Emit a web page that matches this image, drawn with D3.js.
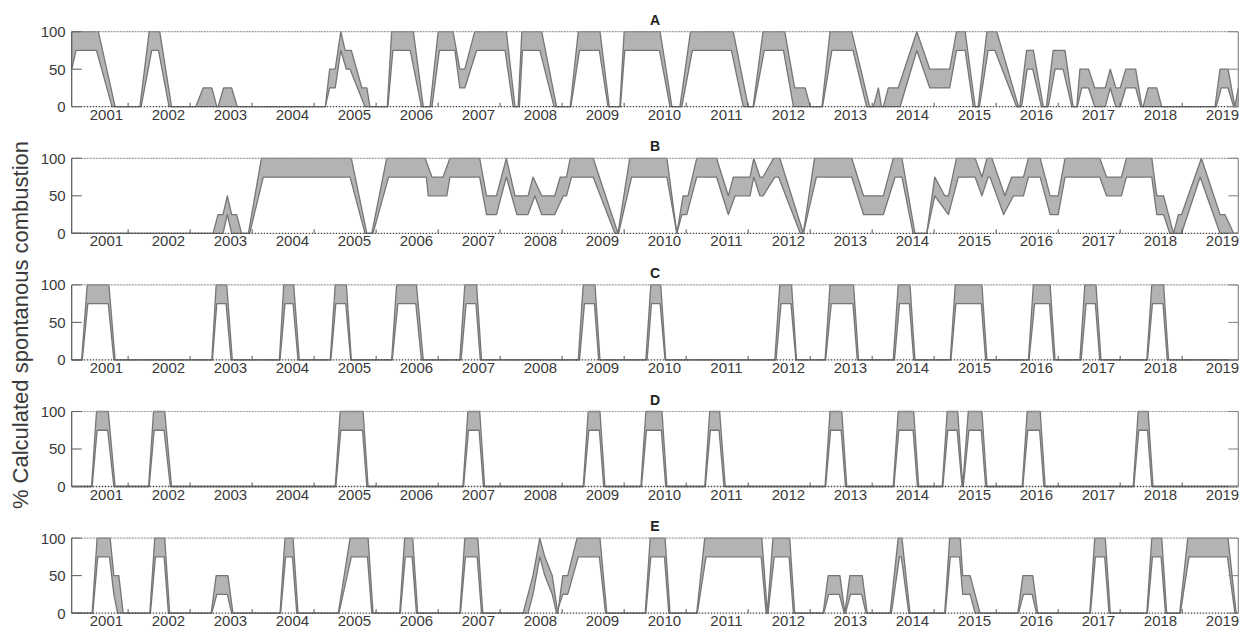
<!DOCTYPE html>
<html><head><meta charset="utf-8">
<script src="https://cdn.jsdelivr.net/npm/d3@7/dist/d3.min.js"></script>
<style>body{margin:0;background:#fff;} svg{display:block;font-family:"Liberation Sans",Arial,sans-serif;}</style>
</head><body><svg id="c" width="1248" height="630"></svg>
<script>
const panelNames = ["A","B","C","D","E"];
const yearLabels = [2001,2002,2003,2004,2005,2006,2007,2008,2009,2010,2011,2012,2013,2014,2015,2016,2017,2018,2019];
const yTickValues = [0,50,100];
const yAxisTitle = "% Calculated spontanous combustion";

// Panel A
const A_hi = [[2000.44,100],[2000.87,100],[2001.14,0],
[2001.54,0],[2001.69,100],[2001.86,100],[2002.05,0],
[2002.44,0],[2002.56,25],[2002.70,25],[2002.78,0],[2002.80,0],[2002.89,25],[2003.02,25],[2003.11,0],
[2004.53,0],[2004.60,50],[2004.69,50],[2004.78,100],[2004.85,75],[2004.95,75],[2005.12,25],[2005.20,25],[2005.25,0],
[2005.53,0],[2005.60,100],[2005.95,100],[2006.11,0],
[2006.22,0],[2006.35,100],[2006.59,100],[2006.70,50],[2006.78,50],[2006.94,100],[2007.45,100],[2007.59,0],
[2007.64,0],[2007.70,100],[2008.02,100],[2008.26,0],
[2008.48,0],[2008.61,100],[2008.96,100],[2009.11,0],
[2009.28,0],[2009.35,100],[2009.93,100],[2010.12,0],
[2010.25,0],[2010.42,100],[2011.11,100],[2011.35,0],
[2011.43,0],[2011.59,100],[2011.94,100],[2012.10,25],[2012.27,25],[2012.35,0],
[2012.54,0],[2012.67,100],[2013.02,100],[2013.31,0],
[2013.37,0],[2013.45,25],[2013.50,0],
[2013.53,0],[2013.61,25],[2013.77,25],[2014.07,100],[2014.28,50],[2014.60,50],[2014.71,100],[2014.85,100],[2015.01,0],
[2015.06,0],[2015.20,100],[2015.36,100],[2015.71,0],
[2015.73,0],[2015.84,75],[2015.95,75],[2016.11,0],
[2016.16,0],[2016.27,75],[2016.46,75],[2016.59,0],
[2016.65,0],[2016.70,50],[2016.84,50],[2016.94,25],[2017.11,25],[2017.19,50],[2017.28,25],[2017.35,25],[2017.44,50],[2017.60,50],[2017.70,0],
[2017.72,0],[2017.80,25],[2017.94,25],[2018.02,0],
[2018.88,0],[2018.96,50],[2019.09,50],[2019.20,0],[2019.255,25]];
const A_lo = [[2000.44,50],[2000.51,75],[2000.84,75],[2001.09,0],
[2001.56,0],[2001.73,75],[2001.84,75],[2002.01,0],
[2004.53,0],[2004.60,25],[2004.69,25],[2004.78,75],[2004.87,50],[2004.93,50],[2005.17,0],
[2005.54,0],[2005.62,75],[2005.90,75],[2006.08,0],
[2006.25,0],[2006.37,75],[2006.62,75],[2006.70,25],[2006.78,25],[2006.97,75],[2007.43,75],[2007.56,0],
[2007.66,0],[2007.71,75],[2007.99,75],[2008.22,0],
[2008.49,0],[2008.63,75],[2008.95,75],[2009.09,0],
[2009.29,0],[2009.36,75],[2009.92,75],[2010.09,0],
[2010.28,0],[2010.45,75],[2011.08,75],[2011.27,0],
[2011.44,0],[2011.61,75],[2011.92,75],[2012.08,0],
[2012.55,0],[2012.70,75],[2013.04,75],[2013.26,0],
[2013.80,0],[2014.07,75],[2014.28,25],[2014.60,25],[2014.71,75],[2014.85,75],[2014.98,0],
[2015.08,0],[2015.22,75],[2015.33,75],[2015.68,0],
[2015.76,0],[2015.85,50],[2015.94,50],[2016.08,0],
[2016.19,0],[2016.30,50],[2016.43,50],[2016.57,0],
[2016.66,0],[2016.73,25],[2016.84,25],[2016.94,0],[2017.11,0],[2017.19,25],[2017.28,0],[2017.35,0],[2017.44,25],[2017.60,25],[2017.68,0],
[2018.90,0],[2018.98,25],[2019.09,25],[2019.18,0],[2019.255,0]];

// Panel B
const B_hi = [[2000.44,0],[2002.72,0],[2002.80,25],[2002.88,25],[2002.95,50],[2003.02,25],[2003.10,25],[2003.18,0],
[2003.29,0],[2003.50,100],[2004.95,100],[2005.20,0],
[2005.28,0],[2005.52,100],[2006.14,100],[2006.25,75],[2006.43,75],[2006.54,100],[2007.02,100],[2007.13,50],[2007.29,50],[2007.45,100],[2007.59,50],[2007.80,50],[2007.88,75],[2008.02,50],[2008.23,50],[2008.32,75],[2008.42,75],[2008.48,100],[2008.85,100],[2009.25,0],
[2009.44,100],[2010.04,100],[2010.20,0],[2010.30,50],[2010.38,50],[2010.52,100],[2010.84,100],[2011.03,50],[2011.11,75],[2011.38,75],[2011.44,100],[2011.54,75],[2011.59,75],[2011.76,100],[2011.86,100],[2012.24,0],
[2012.42,100],[2013.02,100],[2013.21,50],[2013.53,50],[2013.69,100],[2013.83,100],[2014.04,0],[2014.23,0],[2014.36,75],[2014.52,50],[2014.58,50],[2014.71,100],[2015.01,100],[2015.12,75],[2015.20,100],[2015.28,100],[2015.49,50],[2015.60,75],[2015.79,75],[2015.87,100],[2016.06,100],[2016.22,50],[2016.35,50],[2016.46,100],[2017.02,100],[2017.13,75],[2017.37,75],[2017.45,100],[2017.86,100],[2017.94,50],[2018.05,50],[2018.21,0],[2018.29,25],[2018.34,25],[2018.66,100],[2018.96,25],[2019.04,25],[2019.18,0],[2019.255,0]];
const B_lo = [[2000.44,0],[2002.88,0],[2002.95,25],[2003.02,0],
[2003.31,0],[2003.53,75],[2004.93,75],[2005.17,0],
[2005.30,0],[2005.55,75],[2006.16,75],[2006.19,50],[2006.49,50],[2006.54,75],[2007.02,75],[2007.13,25],[2007.29,25],[2007.45,75],[2007.62,25],[2007.80,25],[2007.91,50],[2008.02,25],[2008.23,25],[2008.37,50],[2008.42,50],[2008.50,75],[2008.85,75],[2009.20,0],
[2009.26,0],[2009.47,75],[2010.04,75],[2010.20,0],[2010.28,25],[2010.36,25],[2010.52,75],[2010.84,75],[2011.03,25],[2011.14,50],[2011.38,50],[2011.44,75],[2011.54,50],[2011.59,50],[2011.78,75],[2011.84,75],[2012.19,0],
[2012.24,0],[2012.45,75],[2013.02,75],[2013.21,25],[2013.53,25],[2013.72,75],[2013.83,75],[2014.01,0],[2014.23,0],[2014.36,50],[2014.58,25],[2014.74,75],[2015.01,75],[2015.12,50],[2015.22,75],[2015.25,75],[2015.47,25],[2015.63,50],[2015.79,50],[2015.87,75],[2016.06,75],[2016.22,25],[2016.35,25],[2016.46,75],[2017.02,75],[2017.13,50],[2017.37,50],[2017.45,75],[2017.86,75],[2017.94,25],[2018.05,25],[2018.15,0],[2018.34,0],[2018.64,75],[2018.96,0],[2019.255,0]];

// Panel C
const C_hi = [[2000.44,0],[2000.60,0],[2000.69,100],[2001.04,100],[2001.14,0],
[2002.70,0],[2002.77,100],[2002.94,100],[2003.03,0],
[2003.79,0],[2003.86,100],[2004.02,100],[2004.11,0],
[2004.61,0],[2004.69,100],[2004.87,100],[2004.95,0],
[2005.60,0],[2005.68,100],[2006.00,100],[2006.11,0],
[2006.70,0],[2006.78,100],[2006.97,100],[2007.05,0],
[2008.61,0],[2008.69,100],[2008.88,100],[2008.96,0],
[2009.70,0],[2009.78,100],[2009.94,100],[2010.02,0],
[2011.78,0],[2011.86,100],[2012.05,100],[2012.13,0],
[2012.59,0],[2012.67,100],[2013.05,100],[2013.13,0],
[2013.69,0],[2013.77,100],[2013.96,100],[2014.04,0],
[2014.61,0],[2014.69,100],[2015.12,100],[2015.20,0],
[2015.87,0],[2015.95,100],[2016.22,100],[2016.30,0],
[2016.70,0],[2016.78,100],[2016.96,100],[2017.04,0],
[2017.78,0],[2017.86,100],[2018.05,100],[2018.13,0],[2019.255,0]];
const C_lo = [[2000.44,0],[2000.61,0],[2000.70,75],[2001.03,75],[2001.12,0],
[2002.71,0],[2002.78,75],[2002.93,75],[2003.01,0],
[2003.80,0],[2003.88,75],[2004.01,75],[2004.09,0],
[2004.62,0],[2004.70,75],[2004.86,75],[2004.94,0],
[2005.61,0],[2005.70,75],[2005.99,75],[2006.08,0],
[2006.72,0],[2006.80,75],[2006.96,75],[2007.03,0],
[2008.63,0],[2008.71,75],[2008.87,75],[2008.94,0],
[2009.72,0],[2009.79,75],[2009.93,75],[2010.01,0],
[2011.80,0],[2011.88,75],[2012.04,75],[2012.12,0],
[2012.60,0],[2012.69,75],[2013.04,75],[2013.11,0],
[2013.71,0],[2013.79,75],[2013.95,75],[2014.02,0],
[2014.62,0],[2014.70,75],[2015.11,75],[2015.18,0],
[2015.88,0],[2015.97,75],[2016.21,75],[2016.28,0],
[2016.72,0],[2016.80,75],[2016.95,75],[2017.02,0],
[2017.79,0],[2017.87,75],[2018.04,75],[2018.11,0],[2019.255,0]];

// Panel D
const D_hi = [[2000.44,0],[2000.76,0],[2000.84,100],[2001.03,100],[2001.14,0],
[2001.68,0],[2001.76,100],[2001.94,100],[2002.05,0],
[2004.69,0],[2004.77,100],[2005.14,100],[2005.22,0],
[2006.75,0],[2006.83,100],[2007.02,100],[2007.10,0],
[2008.69,0],[2008.77,100],[2008.96,100],[2009.04,0],
[2009.62,0],[2009.70,100],[2009.96,100],[2010.04,0],
[2010.65,0],[2010.73,100],[2010.89,100],[2010.98,0],
[2012.59,0],[2012.67,100],[2012.86,100],[2012.94,0],
[2013.69,0],[2013.77,100],[2014.02,100],[2014.10,0],
[2014.48,0],[2014.56,100],[2014.73,100],[2014.81,0],
[2014.90,100],[2015.12,100],[2015.20,0],
[2015.77,0],[2015.85,100],[2016.06,100],[2016.14,0],
[2017.56,0],[2017.64,100],[2017.80,100],[2017.88,0],[2019.255,0]];
const D_lo = [[2000.44,0],[2000.77,0],[2000.85,75],[2001.02,75],[2001.12,0],
[2001.69,0],[2001.77,75],[2001.93,75],[2002.03,0],
[2004.70,0],[2004.78,75],[2005.13,75],[2005.20,0],
[2006.76,0],[2006.84,75],[2007.01,75],[2007.08,0],
[2008.70,0],[2008.78,75],[2008.95,75],[2009.02,0],
[2009.63,0],[2009.71,75],[2009.95,75],[2010.02,0],
[2010.66,0],[2010.74,75],[2010.88,75],[2010.96,0],
[2012.60,0],[2012.68,75],[2012.85,75],[2012.92,0],
[2013.70,0],[2013.78,75],[2014.01,75],[2014.08,0],
[2014.49,0],[2014.57,75],[2014.72,75],[2014.80,0],[2014.82,0],
[2014.91,75],[2015.11,75],[2015.18,0],
[2015.78,0],[2015.86,75],[2016.05,75],[2016.12,0],
[2017.57,0],[2017.65,75],[2017.79,75],[2017.86,0],[2019.255,0]];

// Panel E
const E_hi = [[2000.44,0],[2000.77,0],[2000.85,100],[2001.06,100],[2001.12,50],[2001.20,50],[2001.27,0],
[2001.70,0],[2001.78,100],[2001.94,100],[2002.02,0],
[2002.69,0],[2002.77,50],[2002.96,50],[2003.04,0],
[2003.80,0],[2003.88,100],[2004.01,100],[2004.09,0],
[2004.74,0],[2004.93,100],[2005.22,100],[2005.30,0],
[2005.73,0],[2005.81,100],[2005.94,100],[2006.02,0],
[2006.70,0],[2006.78,100],[2006.99,100],[2007.07,0],
[2007.72,0],[2007.80,25],[2007.88,50],[2007.99,100],[2008.07,75],[2008.19,50],[2008.28,0],[2008.36,50],[2008.44,50],[2008.59,100],[2008.96,100],[2009.07,0],
[2009.69,0],[2009.77,100],[2010.01,100],[2010.09,0],
[2010.52,0],[2010.65,100],[2011.57,100],[2011.66,0],
[2011.75,100],[2012.02,100],[2012.10,0],
[2012.56,0],[2012.64,50],[2012.83,50],[2012.91,0],[2012.99,50],[2013.19,50],[2013.27,0],
[2013.64,0],[2013.77,100],[2013.83,100],[2013.96,0],
[2014.52,0],[2014.60,100],[2014.77,100],[2014.81,50],[2014.93,50],[2015.01,25],[2015.09,0],
[2015.70,0],[2015.78,50],[2015.94,50],[2016.02,0],
[2016.86,0],[2016.94,100],[2017.11,100],[2017.19,0],
[2017.78,0],[2017.86,100],[2018.02,100],[2018.10,0],
[2018.31,0],[2018.44,100],[2019.09,100],[2019.22,0],[2019.255,0]];
const E_lo = [[2000.44,0],[2000.78,0],[2000.86,75],[2001.05,75],[2001.12,25],[2001.18,0],
[2001.71,0],[2001.79,75],[2001.93,75],[2002.00,0],
[2002.70,0],[2002.78,25],[2002.95,25],[2003.02,0],
[2003.81,0],[2003.89,75],[2004.00,75],[2004.07,0],
[2004.75,0],[2004.95,75],[2005.21,75],[2005.28,0],
[2005.74,0],[2005.82,75],[2005.93,75],[2006.00,0],
[2006.71,0],[2006.79,75],[2006.98,75],[2007.05,0],
[2007.80,0],[2007.88,25],[2007.99,75],[2008.07,50],[2008.19,25],[2008.26,0],[2008.36,25],[2008.44,25],[2008.61,75],[2008.95,75],[2009.05,0],
[2009.70,0],[2009.78,75],[2010.00,75],[2010.07,0],
[2010.53,0],[2010.67,75],[2011.56,75],[2011.64,0],[2011.67,0],
[2011.77,75],[2012.01,75],[2012.08,0],
[2012.57,0],[2012.65,25],[2012.82,25],[2012.90,0],[2012.92,0],[2013.00,25],[2013.18,25],[2013.25,0],
[2013.66,0],[2013.79,75],[2013.82,75],[2013.94,0],
[2014.53,0],[2014.61,75],[2014.76,75],[2014.81,25],[2014.93,25],[2015.01,0],
[2015.71,0],[2015.79,25],[2015.93,25],[2016.00,0],
[2016.87,0],[2016.95,75],[2017.10,75],[2017.17,0],
[2017.79,0],[2017.87,75],[2018.01,75],[2018.08,0],
[2018.32,0],[2018.46,75],[2019.08,75],[2019.20,0],[2019.255,0]];

const panels = [
  {name: panelNames[0], lo: A_lo, hi: A_hi},
  {name: panelNames[1], lo: B_lo, hi: B_hi},
  {name: panelNames[2], lo: C_lo, hi: C_hi},
  {name: panelNames[3], lo: D_lo, hi: D_hi},
  {name: panelNames[4], lo: E_lo, hi: E_hi}
];

const svg = d3.select("#c");
const x = d3.scaleLinear().domain([2000.44, 2019.255]).range([71.7, 1238.3]);
const panelTop0 = 31.7, panelStep = 126.6, panelH = 75;

function interp(v, t) {
  const i = d3.bisector(d => d[0]).left(v, t);
  if (i <= 0) return v[0][1];
  if (i >= v.length) return v[v.length-1][1];
  const a = v[i-1], b = v[i];
  if (b[0] === a[0]) return b[1];
  return a[1] + (b[1]-a[1]) * (t - a[0]) / (b[0] - a[0]);
}

panels.forEach((p, i) => {
  const top = panelTop0 + i * panelStep;
  const y = d3.scaleLinear().domain([0, 100]).range([top + panelH, top]);
  const g = svg.append("g");

  const xs = Array.from(new Set(p.lo.map(d => d[0]).concat(p.hi.map(d => d[0])))).sort((a,b)=>a-b);
  const band = xs.map(t => ({t, lo: interp(p.lo, t), hi: interp(p.hi, t)}));
  g.append("path").datum(band)
    .attr("d", d3.area().x(d => x(d.t)).y0(d => y(d.lo)).y1(d => y(d.hi)))
    .attr("fill", "#b3b3b3").attr("stroke", "none");

  const line = d3.line().x(d => x(d[0])).y(d => y(d[1]));
  [p.lo, p.hi].forEach(s => {
    g.append("path").datum(s).attr("d", line)
      .attr("fill", "none").attr("stroke", "#767676").attr("stroke-width", 1.3)
      .attr("stroke-linejoin", "round");
  });

  const x0 = x.range()[0], x1 = x.range()[1];
  g.append("line").attr("x1", x0).attr("x2", x1).attr("y1", y(100)).attr("y2", y(100))
    .attr("stroke", "#9a9a9a").attr("stroke-width", 1.2).attr("stroke-dasharray", "2,1");
  g.append("line").attr("x1", x1).attr("x2", x1).attr("y1", y(100)).attr("y2", y(0))
    .attr("stroke", "#8a8a8a").attr("stroke-width", 1.2);
  g.append("line").attr("x1", x0).attr("x2", x0).attr("y1", y(100)).attr("y2", y(0))
    .attr("stroke", "#555").attr("stroke-width", 1.2);
  g.append("line").attr("x1", x0).attr("x2", x1).attr("y1", y(0)).attr("y2", y(0))
    .attr("stroke", "#444").attr("stroke-width", 1.3).attr("stroke-dasharray", "1.5,1.5");

  yearLabels.forEach(yr => {
    const tx = x(yr + 0.35);
    if (tx < x1 - 2) {
      g.append("line").attr("x1", tx).attr("x2", tx).attr("y1", y(0)).attr("y2", y(0) - 4)
        .attr("stroke", "#555").attr("stroke-width", 1);
    }
  });
  yTickValues.forEach(v => {
    g.append("line").attr("x1", x0).attr("x2", x0 + 10).attr("y1", y(v)).attr("y2", y(v))
      .attr("stroke", "#666").attr("stroke-width", 1.1);
    g.append("line").attr("x1", x1).attr("x2", x1 - 10).attr("y1", y(v)).attr("y2", y(v))
      .attr("stroke", "#888").attr("stroke-width", 1.1);
    g.append("text").attr("x", x0 - 6).attr("y", y(v)).attr("dy", "0.36em")
      .attr("text-anchor", "end").attr("font-size", 15).attr("fill", "#3a3a3a").text(v);
  });
  yearLabels.forEach(yr => {
    g.append("text").attr("x", x(yr)).attr("y", y(0) + 13)
      .attr("text-anchor", "middle").attr("font-size", 15).attr("fill", "#3a3a3a").text(yr);
  });
  g.append("text").attr("x", (x0 + x1) / 2).attr("y", top - 7)
    .attr("text-anchor", "middle").attr("font-size", 14).attr("font-weight", "bold")
    .attr("fill", "#222").text(p.name);
});

svg.append("text").attr("transform", "translate(28,325) rotate(-90)")
  .attr("text-anchor", "middle").attr("font-size", 22).attr("fill", "#3a3a3a").text(yAxisTitle);
</script></body></html>
